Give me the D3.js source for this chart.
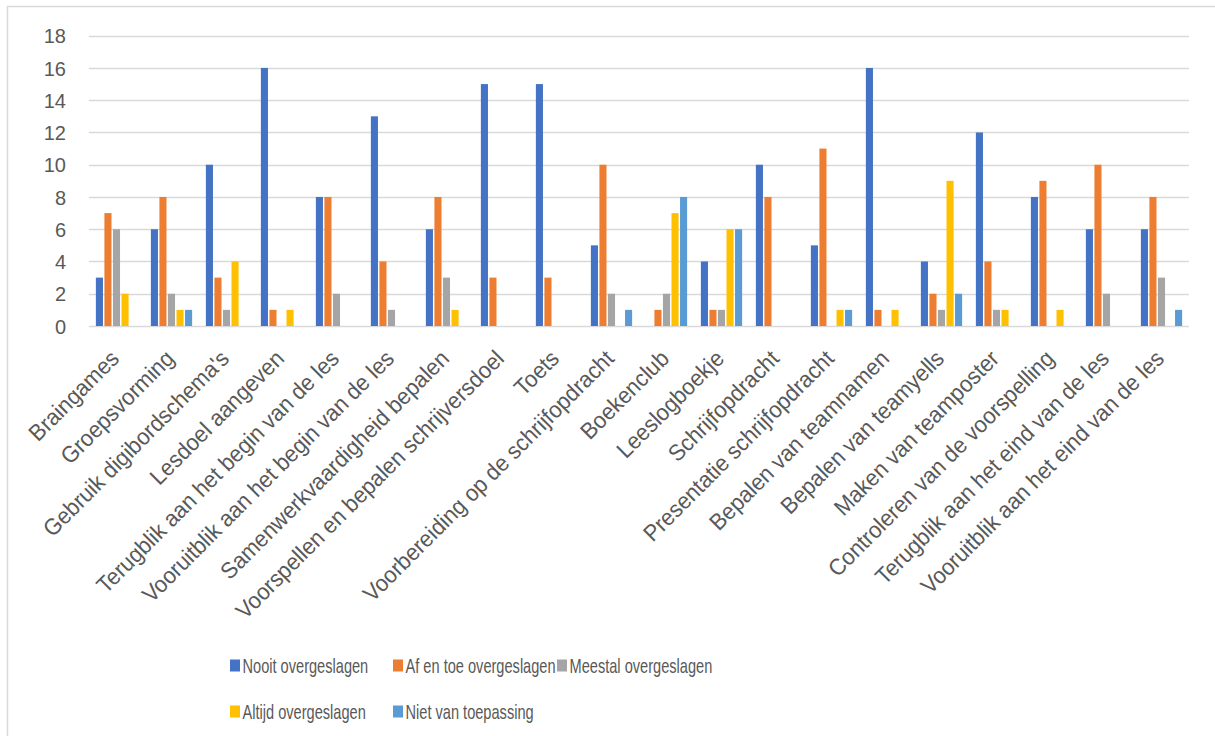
<!DOCTYPE html>
<html>
<head>
<meta charset="utf-8">
<script src="https://cdn.jsdelivr.net/npm/d3@7"></script>
<style>
  html, body { margin: 0; padding: 0; background: #fff; }
  svg { display: block; }
</style>
</head>
<body>
<svg id="chart" width="1215" height="736"></svg>
<script>
// Lesonderdelen (categorieën op de x-as)
const categories = [
  "Braingames",
  "Groepsvorming",
  "Gebruik digibordschema's",
  "Lesdoel aangeven",
  "Terugblik aan het begin van de les",
  "Vooruitblik aan het begin van de les",
  "Samenwerkvaardigheid bepalen",
  "Voorspellen en bepalen schrijversdoel",
  "Toets",
  "Voorbereiding op de schrijfopdracht",
  "Boekenclub",
  "Leeslogboekje",
  "Schrijfopdracht",
  "Presentatie schrijfopdracht",
  "Bepalen van teamnamen",
  "Bepalen van teamyells",
  "Maken van teamposter",
  "Controleren van de voorspelling",
  "Terugblik aan het eind van de les",
  "Vooruitblik aan het eind van de les"
];

const seriesNames = [
  "Nooit overgeslagen",
  "Af en toe overgeslagen",
  "Meestal overgeslagen",
  "Altijd overgeslagen",
  "Niet van toepassing"
];

// Aantallen per reeks, in dezelfde volgorde als de categorieën
const nooit    = [3, 6, 10, 16, 8, 13, 6, 15, 15, 5, 0, 4, 10, 5, 16, 4, 12, 8, 6, 6];
const afEnToe  = [7, 8, 3, 1, 8, 4, 8, 3, 3, 10, 1, 1, 8, 11, 1, 2, 4, 9, 10, 8];
const meestal  = [6, 2, 1, 0, 2, 1, 3, 0, 0, 2, 2, 1, 0, 0, 0, 1, 1, 0, 2, 3];
const altijd   = [2, 1, 4, 1, 0, 0, 1, 0, 0, 0, 7, 6, 0, 1, 1, 9, 1, 1, 0, 0];
const nvt      = [0, 1, 0, 0, 0, 0, 0, 0, 0, 1, 8, 6, 0, 1, 0, 2, 0, 0, 0, 1];

const seriesValues = [nooit, afEnToe, meestal, altijd, nvt];
const seriesColors = ["#4472C4", "#ED7D31", "#A5A5A5", "#FFC000", "#5B9BD5"];

const yTicks = [0, 2, 4, 6, 8, 10, 12, 14, 16, 18];

const svg = d3.select("#chart");
const textColor = "#595959";
const gridColor = "#D9D9D9";
const fontFamily = "'Liberation Sans', Arial, sans-serif";

// Kader rond de grafiek
svg.append("rect")
  .attr("x", 7.5).attr("y", 6.5)
  .attr("width", 1240).attr("height", 760)
  .attr("fill", "none")
  .attr("stroke", gridColor)
  .attr("stroke-width", 1.5);

const plot = { left: 89, right: 1189, top: 35.7, bottom: 326 };

const x0 = d3.scaleBand()
  .domain(categories)
  .range([plot.left, plot.right])
  .paddingInner(0.25)
  .paddingOuter(0.125);

const x1 = d3.scaleBand()
  .domain(d3.range(seriesNames.length))
  .range([0, x0.bandwidth()])
  .paddingInner(0.17);

const y = d3.scaleLinear()
  .domain([0, 18])
  .range([plot.bottom, plot.top]);

// Rasterlijnen
svg.append("g")
  .selectAll("line")
  .data(yTicks)
  .join("line")
  .attr("x1", plot.left)
  .attr("x2", plot.right)
  .attr("y1", d => Math.round(y(d)) + 0.5)
  .attr("y2", d => Math.round(y(d)) + 0.5)
  .attr("stroke", gridColor)
  .attr("stroke-width", 1.3);

// Y-as labels
const yAxis = d3.axisLeft(y).tickValues(yTicks).tickSize(0).tickPadding(0);
const yg = svg.append("g")
  .attr("transform", `translate(66,0)`)
  .call(yAxis);
yg.select(".domain").remove();
yg.selectAll("text")
  .attr("fill", textColor)
  .attr("dy", "0.36em")
  .style("font-family", fontFamily)
  .style("font-size", "20px");

// Staven
const groups = svg.append("g")
  .selectAll("g")
  .data(categories)
  .join("g")
  .attr("transform", d => `translate(${x0(d)},0)`);

groups.selectAll("rect")
  .data((d, i) => seriesValues.map((vals, s) => ({ s, v: vals[i] })))
  .join("rect")
  .filter(d => d.v > 0)
  .attr("x", d => x1(d.s))
  .attr("y", d => y(d.v))
  .attr("width", x1.bandwidth())
  .attr("height", d => y(0) - y(d.v))
  .attr("fill", d => seriesColors[d.s]);

// X-as labels, 45 graden gedraaid
svg.append("g")
  .selectAll("text")
  .data(categories)
  .join("text")
  .attr("transform", d => `translate(${x0(d) + x0.bandwidth() / 2 + 4},360) rotate(-45) scale(0.95,1)`)
  .attr("text-anchor", "end")
  .attr("fill", textColor)
  .style("font-family", fontFamily)
  .style("font-size", "23px")
  .text(d => d);

// Legenda
const legendPos = [
  { x: 230, y: 665.5 },
  { x: 393, y: 665.5 },
  { x: 557, y: 665.5 },
  { x: 230, y: 711.5 },
  { x: 393, y: 711.5 }
];

const legend = svg.append("g")
  .selectAll("g")
  .data(seriesNames)
  .join("g")
  .attr("transform", (d, i) => `translate(${legendPos[i].x},${legendPos[i].y})`);

legend.append("rect")
  .attr("x", 0).attr("y", -6)
  .attr("width", 10).attr("height", 12)
  .attr("fill", (d, i) => seriesColors[i]);

legend.append("text")
  .attr("transform", "translate(12.5,0) scale(0.73,1)")
  .attr("dy", "0.36em")
  .attr("fill", textColor)
  .style("font-family", fontFamily)
  .style("font-size", "20px")
  .text(d => d);
</script>
</body>
</html>
